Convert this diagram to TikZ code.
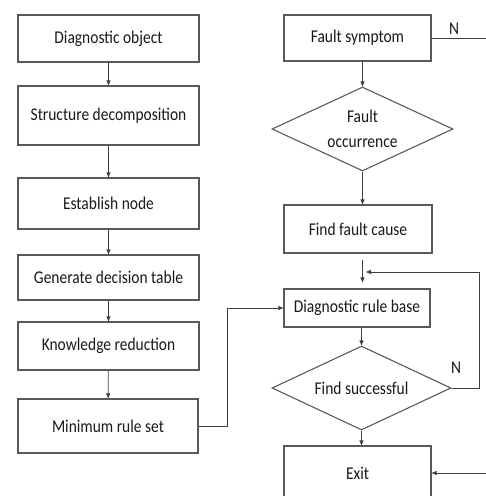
\documentclass[tikz,border=0pt]{standalone}
\usepackage{fontspec}
\setmainfont{Carlito}[FakeStretch=0.86]
\usetikzlibrary{shapes.geometric,arrows.meta}
\begin{document}
\begin{tikzpicture}[x=1pt,y=-1pt,
  every node/.style={font=\fontsize{18}{25}\selectfont, text=black!90},
  box/.style={draw=black!65, line width=1.2pt, rectangle, inner sep=0pt, minimum width=#1},
  box/.default=181,
  dia/.style={draw=black!65, line width=1.1pt, diamond, inner sep=0pt, aspect=2.1, align=center},
  arr/.style={draw=black!75, line width=0.8pt, -{Triangle[length=5pt,width=4pt]}},
  ln/.style={draw=black!75, line width=0.8pt},
  lbl/.style={inner sep=0pt}
]
\useasboundingbox (0,0) rectangle (486,496);
\clip (0,0) rectangle (486,496);
% left column
\node[box, minimum height=47] (DO) at (108.5,38.5) {Diagnostic object};
\node[box, minimum height=59] (SD) at (108.5,115.5) {Structure decomposition};
\node[box, minimum height=51] (EN) at (108.5,203.5) {Establish node};
\node[box, minimum height=45] (GDT) at (108.5,277.5) {Generate decision table};
\node[box, minimum height=48] (KR) at (108.5,346) {Knowledge reduction};
\node[box=180, minimum height=54] (MRS) at (108,426) {Minimum rule set};
% right column
\node[box=147, minimum height=46] (FS) at (357.5,38) {Fault symptom};
\node[dia, minimum width=181, minimum height=84] (FO) at (362.5,129) {Fault\\occurrence};
\node[box=148, minimum height=48] (FFC) at (358,229) {Find fault cause};
\node[box=146, minimum height=38] (DRB) at (357,308) {Diagnostic rule base};
\node[dia, minimum width=179, minimum height=84] (FSU) at (361.5,388) {Find successful};
\node[box=147, minimum height=54] (EX) at (357.5,473) {Exit};
% labels
\node[lbl] (N1) at (454,29) {N};
\node[lbl] (N2) at (456,368) {N};
% free ends
\coordinate (nout) at (486,38);
\coordinate (exin) at (486,473);
\coordinate (loopend) at (366,272);
% left connectors
\draw[arr] (DO) -- (SD);
\draw[arr] (SD) -- (EN);
\draw[arr] (EN) -- (GDT);
\draw[arr] (GDT) -- (KR);
\draw[arr] (KR) -- (MRS);
\draw[arr] (MRS.east) -- ++(29,0) |- (DRB.west);
% right connectors
\draw[arr] (FO.north |- FS.south) -- (FO.north);
\draw[arr] (FO.south) -- (FO.south |- FFC.north);
\draw[arr, shorten <=6pt, shorten >=6pt] (FO.south |- FFC.south) -- (FO.south |- DRB.north);
\draw[arr] (FSU.north |- DRB.south) -- (FSU.north);
\draw[arr] (FSU.south) -- (FSU.south |- EX.north);
\draw[arr] (FSU.east) -- ++(28,0) |- (loopend);
\draw[ln] (FS.east) -- (nout);
\draw[arr] (exin) -- (EX.east);
\end{tikzpicture}
\end{document}
